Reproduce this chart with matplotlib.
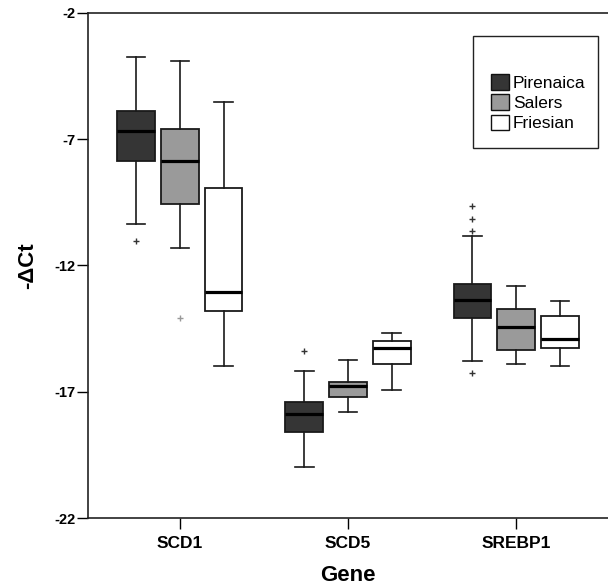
import matplotlib
matplotlib.use('Agg')
import matplotlib.pyplot as plt
from matplotlib.patches import Patch, Rectangle

plt.rcParams['font.family'] = ['Liberation Sans', 'DejaVu Sans']

genes = ['SCD1', 'SCD5', 'SREBP1']
breeds = ['Pirenaica', 'Salers', 'Friesian']
colors = ['#353535', '#9a9a9a', '#ffffff']

# (low whisker, Q1, median, Q3, high whisker) for SCD1, SCD5, SREBP1
pirenaica = [(-10.38, -7.85, -6.69, -5.89, -3.74),
             (-19.99, -18.58, -17.87, -17.39, -16.19),
             (-15.79, -14.09, -13.39, -12.73, -10.84)]
salers = [(-11.31, -9.56, -7.87, -6.59, -3.93),
          (-17.81, -17.23, -16.79, -16.61, -15.75),
          (-15.89, -15.35, -14.45, -13.71, -12.81)]
friesian = [(-15.98, -13.79, -13.05, -8.92, -5.54),
            (-16.95, -15.90, -15.29, -15.00, -14.67),
            (-15.98, -15.27, -14.93, -14.02, -13.41)]

pirenaica_out = [[-11.04], [-15.39], [-9.64, -10.18, -10.65, -16.26]]
salers_out = [[-14.08], [], []]
friesian_out = [[], [], []]

fig = plt.figure(figsize=(6.08, 5.87), dpi=100)
ax = fig.add_axes([88 / 608, 1 - 518 / 587, 1 - 88 / 608, (518 - 12.7) / 587])

offsets = [-0.26, 0.0, 0.26]
all_stats = [pirenaica, salers, friesian]
all_out = [pirenaica_out, salers_out, friesian_out]
flier_colors = ['#333333', '#999999', '#333333']

for b in range(3):
    stats = []
    for g in range(3):
        lo, q1, med, q3, hi = all_stats[b][g]
        stats.append(dict(whislo=lo, q1=q1, med=med, q3=q3, whishi=hi,
                          fliers=all_out[b][g]))
    pos = [g + 1 + offsets[b] for g in range(3)]
    ax.bxp(stats, positions=pos, widths=0.225, patch_artist=True,
           capwidths=0.11, manage_ticks=False,
           boxprops=dict(facecolor=colors[b], edgecolor='#1a1a1a', linewidth=1.3),
           medianprops=dict(color='black', linewidth=2.3),
           whiskerprops=dict(color='#1a1a1a', linewidth=1.2),
           capprops=dict(color='#1a1a1a', linewidth=1.2),
           flierprops=dict(marker='+', markersize=5, markeredgewidth=1.0,
                           markeredgecolor=flier_colors[b], linestyle='none'))

ax.set_xlim(0.454, 3.546)
ax.set_ylim(-22, -2)
ax.set_yticks([-22, -17, -12, -7, -2])
ax.set_yticklabels(['-22', '-17', '-12', '-7', '-2'], fontsize=10.5, fontweight='bold')
ax.set_xticks([1, 2, 3])
ax.set_xticklabels(genes, fontsize=12.5, fontweight='bold')
ax.tick_params(axis='y', length=8, width=1, pad=1)
ax.tick_params(axis='x', length=8, width=1, pad=5)
for s in ['left', 'bottom', 'top']:
    ax.spines[s].set_linewidth(1.2)
    ax.spines[s].set_color('#222222')
ax.spines['right'].set_visible(False)

ax.set_ylabel('-ΔCt', fontsize=16, fontweight='bold')
ax.yaxis.set_label_coords(-0.096, 0.5)
ax.set_xlabel('Gene', fontsize=16, fontweight='bold')
ax.xaxis.set_label_coords(0.5, -0.094)

# legend frame
fig.patches.append(Rectangle((473 / 608, 1 - 148 / 587), 125 / 608, 112 / 587,
                             transform=fig.transFigure, facecolor='white',
                             edgecolor='#222222', linewidth=1.0, zorder=5))
handles = [Patch(facecolor=c, edgecolor='#111111', linewidth=1.0) for c in colors]
leg = fig.legend(handles, breeds, loc='upper left',
                 bbox_to_anchor=(479 / 608, 1 - 62 / 587), frameon=False,
                 fontsize=12.5, handlelength=1.0, handleheight=1.0,
                 handletextpad=0.25, labelspacing=0.2, borderpad=0.2)
leg.set_zorder(6)

fig.savefig('out.png', dpi=100)
